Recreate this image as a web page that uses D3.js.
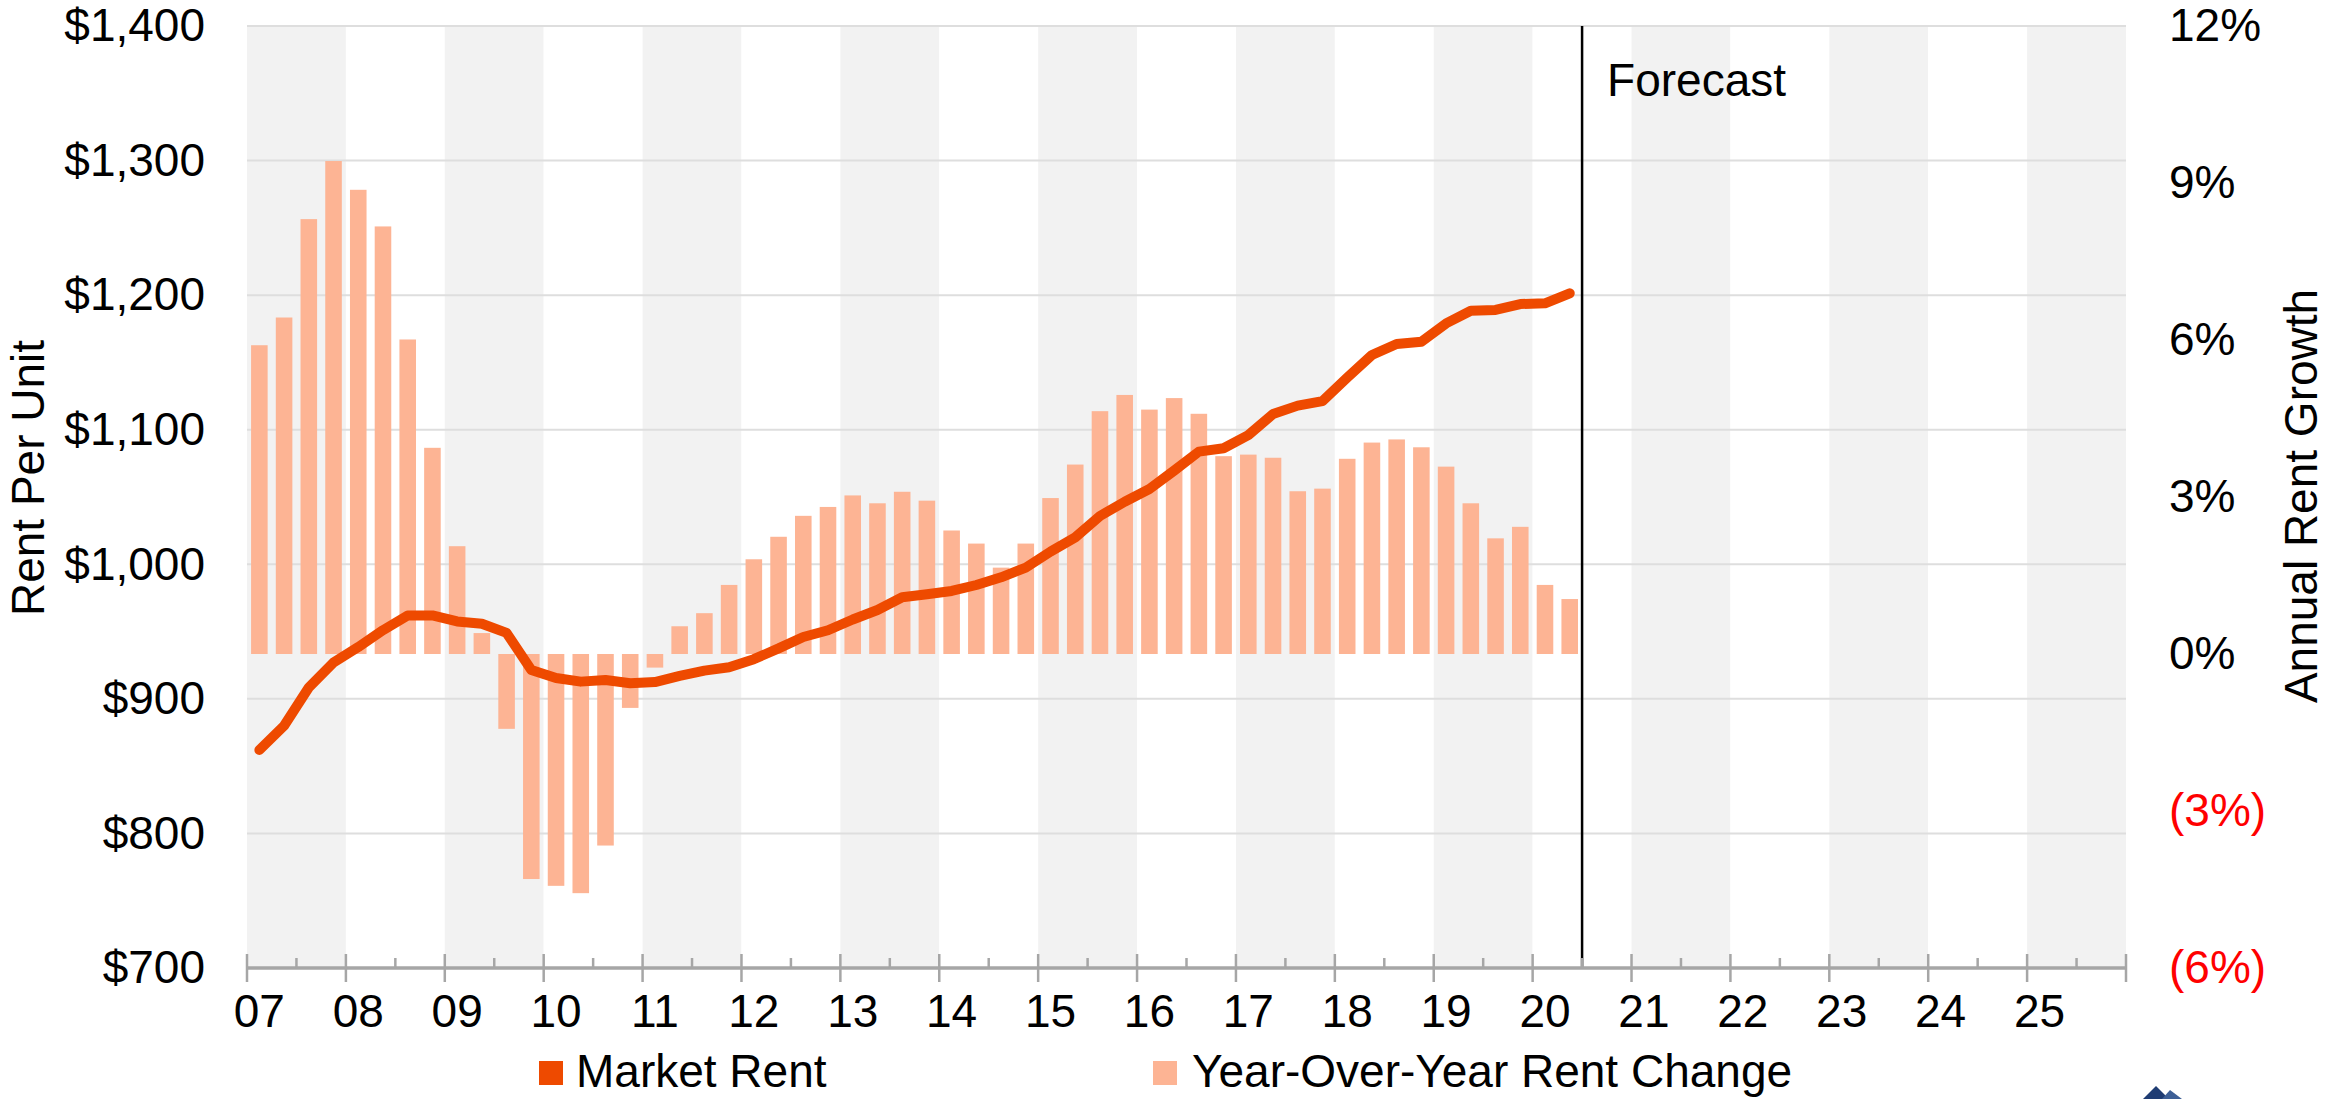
<!DOCTYPE html>
<html>
<head>
<meta charset="utf-8">
<script src="https://cdn.jsdelivr.net/npm/d3@7"></script>
<style>
  body { margin: 0; background: #fff; }
  text { font-family: "Liberation Sans", Arial, sans-serif; }
</style>
</head>
<body>
<div id="chart"></div>
<script>
// quarterly history, 2007 Q1 .. 2020 Q2
const quarters = [
  "2007 Q1","2007 Q2","2007 Q3","2007 Q4","2008 Q1","2008 Q2","2008 Q3","2008 Q4",
  "2009 Q1","2009 Q2","2009 Q3","2009 Q4","2010 Q1","2010 Q2","2010 Q3","2010 Q4",
  "2011 Q1","2011 Q2","2011 Q3","2011 Q4","2012 Q1","2012 Q2","2012 Q3","2012 Q4",
  "2013 Q1","2013 Q2","2013 Q3","2013 Q4","2014 Q1","2014 Q2","2014 Q3","2014 Q4",
  "2015 Q1","2015 Q2","2015 Q3","2015 Q4","2016 Q1","2016 Q2","2016 Q3","2016 Q4",
  "2017 Q1","2017 Q2","2017 Q3","2017 Q4","2018 Q1","2018 Q2","2018 Q3","2018 Q4",
  "2019 Q1","2019 Q2","2019 Q3","2019 Q4","2020 Q1","2020 Q2"
];
const marketRent = [
  862, 880, 908.5, 927, 938.5, 951, 962, 962,
  957.5, 955.8, 949, 921.5, 915.5, 912.8, 914, 911.6,
  912.5, 917, 921, 923.5, 929.5, 937.5, 946, 951,
  959, 966, 975.5, 977.7, 980.2, 984.6, 990.3, 997.5,
  1009.4, 1020, 1035.9, 1046.5, 1055.9, 1069.6, 1083.7, 1086.2,
  1096, 1111.7, 1117.9, 1121.3, 1138.7, 1155.5, 1163.7, 1165.4,
  1179, 1188.4, 1189, 1193.4, 1193.9, 1201.4
];
const rentChange = [
  5.90, 6.43, 8.31, 9.42, 8.87, 8.17, 6.01, 3.94,
  2.06, 0.40, -1.43, -4.30, -4.43, -4.57, -3.66, -1.03,
  -0.26, 0.53, 0.78, 1.32, 1.81, 2.24, 2.64, 2.81,
  3.03, 2.88, 3.10, 2.93, 2.36, 2.11, 1.65, 2.11,
  2.98, 3.62, 4.64, 4.95, 4.67, 4.89, 4.59, 3.78,
  3.81, 3.75, 3.11, 3.16, 3.73, 4.04, 4.10, 3.95,
  3.58, 2.88, 2.21, 2.43, 1.32, 1.05
];
const years = [2007,2008,2009,2010,2011,2012,2013,2014,2015,2016,2017,2018,2019,2020,2021,2022,2023,2024,2025];
const yearLabels = ["07","08","09","10","11","12","13","14","15","16","17","18","19","20","21","22","23","24","25"];
const rentTicks = [700, 800, 900, 1000, 1100, 1200, 1300, 1400];
const growthTicks = [-6, -3, 0, 3, 6, 9, 12];
const forecastStart = 2020.5;

const W = 2330, H = 1099;
const plot = {left: 247, right: 2126, top: 26, bottom: 968};
const fontSize = 46;

const svg = d3.select("#chart").append("svg")
  .attr("width", W).attr("height", H)
  .style("display", "block");

const x = d3.scaleLinear().domain([2007, 2026]).range([plot.left, plot.right]);
const yRent = d3.scaleLinear().domain([700, 1400]).range([plot.bottom, plot.top]);
const yGrowth = d3.scaleLinear().domain([-6, 12]).range([plot.bottom, plot.top]);

// quarter label -> position in years (middle of the quarter)
function qx(q) {
  let [yr, qq] = q.split(" Q");
  return x(+yr + (+qq - 0.5) / 4);
}
const qWidth = x(2007.25) - x(2007);
const barW = qWidth * 0.67;

// alternating year bands
svg.append("g").selectAll("rect").data(years).join("rect")
  .attr("x", d => x(d)).attr("width", d => x(d + 1) - x(d))
  .attr("y", plot.top).attr("height", plot.bottom - plot.top)
  .attr("fill", (d, i) => i % 2 === 0 ? "#f2f2f2" : "#ffffff");

// gridlines
svg.append("g").selectAll("line").data(rentTicks).join("line")
  .attr("x1", plot.left).attr("x2", plot.right)
  .attr("y1", d => yRent(d)).attr("y2", d => yRent(d))
  .attr("stroke", "#dedede").attr("stroke-width", 2);

// yoy bars
svg.append("g").selectAll("rect").data(rentChange).join("rect")
  .attr("x", (d, i) => qx(quarters[i]) - barW / 2)
  .attr("width", barW)
  .attr("y", d => yGrowth(Math.max(0, d)))
  .attr("height", d => Math.abs(yGrowth(d) - yGrowth(0)))
  .attr("fill", "#fdb494");

// market rent line
let line = d3.line()
  .x((d, i) => qx(quarters[i]))
  .y(d => yRent(d));
svg.append("path").datum(marketRent)
  .attr("d", line)
  .attr("fill", "none")
  .attr("stroke", "#ee4a00")
  .attr("stroke-width", 10)
  .attr("stroke-linecap", "round")
  .attr("stroke-linejoin", "round");

// forecast divider
svg.append("line")
  .attr("x1", x(forecastStart)).attr("x2", x(forecastStart))
  .attr("y1", plot.top).attr("y2", plot.bottom)
  .attr("stroke", "#000").attr("stroke-width", 2.5);
svg.append("text")
  .attr("x", x(forecastStart) + 25).attr("y", 96)
  .attr("font-size", fontSize).text("Forecast");

// x axis
let xAxis = svg.append("g");
xAxis.append("line")
  .attr("x1", plot.left).attr("x2", plot.right)
  .attr("y1", plot.bottom).attr("y2", plot.bottom)
  .attr("stroke", "#a6a6a6").attr("stroke-width", 3.5);
xAxis.selectAll(".major").data(years.concat([2026])).join("line")
  .attr("class", "major")
  .attr("x1", d => x(d)).attr("x2", d => x(d))
  .attr("y1", plot.bottom - 14).attr("y2", plot.bottom + 14)
  .attr("stroke", "#a6a6a6").attr("stroke-width", 2.5);
xAxis.selectAll(".minor").data(years).join("line")
  .attr("class", "minor")
  .attr("x1", d => x(d + 0.5)).attr("x2", d => x(d + 0.5))
  .attr("y1", plot.bottom - 10).attr("y2", plot.bottom)
  .attr("stroke", "#a6a6a6").attr("stroke-width", 2.5);
xAxis.selectAll("text").data(years).join("text")
  .attr("x", d => x(d + 0.125)).attr("y", 1027)
  .attr("text-anchor", "middle").attr("font-size", fontSize)
  .text((d, i) => yearLabels[i]);

// left axis
let leftAxis = d3.axisLeft(yRent).tickValues(rentTicks)
  .tickFormat(d => "$" + d3.format(",")(d)).tickSize(0).tickPadding(42);
svg.append("g").attr("transform", `translate(${plot.left},0)`).call(leftAxis)
  .call(g => g.select(".domain").remove())
  .selectAll("text").attr("font-size", fontSize).attr("fill", "#000")
  .attr("font-family", "Liberation Sans, Arial, sans-serif");

// right axis
let rightAxis = d3.axisRight(yGrowth).tickValues(growthTicks)
  .tickFormat(d => d < 0 ? `(${-d}%)` : `${d}%`).tickSize(0).tickPadding(43);
svg.append("g").attr("transform", `translate(${plot.right},0)`).call(rightAxis)
  .call(g => g.select(".domain").remove())
  .selectAll("text").attr("font-size", fontSize)
  .attr("font-family", "Liberation Sans, Arial, sans-serif")
  .attr("fill", d => d < 0 ? "#ff0000" : "#000");

// axis titles
svg.append("text")
  .attr("transform", "translate(44,478) rotate(-90)")
  .attr("text-anchor", "middle").attr("font-size", fontSize)
  .text("Rent Per Unit");
svg.append("text")
  .attr("transform", "translate(2317,496) rotate(-90)")
  .attr("text-anchor", "middle").attr("font-size", fontSize)
  .text("Annual Rent Growth");

// legend
let legend = svg.append("g");
legend.append("rect").attr("x", 539).attr("y", 1061).attr("width", 24).attr("height", 24).attr("fill", "#ee4a00");
legend.append("text").attr("x", 576).attr("y", 1087).attr("font-size", fontSize).text("Market Rent");
legend.append("rect").attr("x", 1153).attr("y", 1061).attr("width", 24).attr("height", 24).attr("fill", "#fdb494");
legend.append("text").attr("x", 1192).attr("y", 1087).attr("font-size", fontSize).text("Year-Over-Year Rent Change");

// corner logo, cut off by the page edge
svg.append("path").attr("d", "M2143,1099 L2156,1086 L2169,1099 Z").attr("fill", "#1f3c73");
svg.append("path").attr("d", "M2162,1099 L2170,1090 L2182,1099 Z").attr("fill", "#3d5f96");
</script>
</body>
</html>
